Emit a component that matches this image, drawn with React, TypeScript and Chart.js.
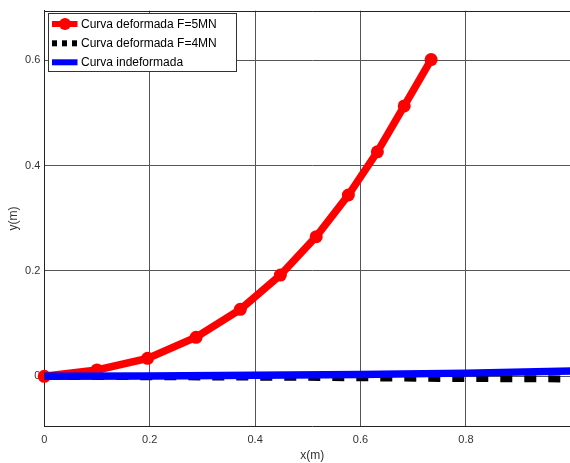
import React, { useEffect, useRef } from 'react';
import { Chart, registerables } from 'chart.js';

Chart.register(...registerables);

const seriesLabels = ['Curva deformada F=5MN', 'Curva deformada F=4MN', 'Curva indeformada'];

const xRed = [0, 0.1, 0.196, 0.288, 0.372, 0.448, 0.516, 0.577, 0.632, 0.683, 0.734];
const yRed = [0, 0.012, 0.034, 0.074, 0.127, 0.192, 0.265, 0.344, 0.426, 0.513, 0.601];

const xBlack = [0, 0.25, 0.5, 0.75, 1.0];
const yBlack = [0, -0.001, -0.002, -0.004, -0.005];

const xBlue = [0, 0.2, 0.4, 0.6, 0.8, 1.0];
const yBlue = [0, 0.0007, 0.002, 0.0035, 0.006, 0.01];

const xTicks = [0, 0.2, 0.4, 0.6, 0.8];
const yTicks = [0, 0.2, 0.4, 0.6];

const FONT = '"Liberation Sans", Arial, sans-serif';

const toPts = (xs: number[], ys: number[]) => xs.map((x, i) => ({ x, y: ys[i] }));

const framePlugin = {
  id: 'frameAndLegend',
  afterDraw(chart: any) {
    const { ctx, chartArea } = chart;
    ctx.save();
    ctx.strokeStyle = '#222';
    ctx.lineWidth = 1;
    ctx.beginPath();
    ctx.moveTo(chartArea.left, Math.round(chartArea.top) + 0.5);
    ctx.lineTo(chartArea.right, Math.round(chartArea.top) + 0.5);
    ctx.stroke();

    const bx = 48, by = 13, bw = 188, bh = 58;
    ctx.fillStyle = '#fff';
    ctx.fillRect(bx, by, bw, bh);
    ctx.strokeStyle = '#333';
    ctx.lineWidth = 1;
    ctx.strokeRect(bx + 0.5, by + 0.5, bw, bh);

    const rows = [24, 43.3, 62.3];
    const x0 = 52, x1 = 77.5;
    ctx.strokeStyle = '#ff0000';
    ctx.lineWidth = 6;
    ctx.beginPath();
    ctx.moveTo(x0, rows[0]);
    ctx.lineTo(x1, rows[0]);
    ctx.stroke();
    ctx.fillStyle = '#ff0000';
    ctx.beginPath();
    ctx.arc(65, rows[0], 6, 0, Math.PI * 2);
    ctx.fill();
    ctx.strokeStyle = '#000';
    ctx.setLineDash([5, 5]);
    ctx.lineCap = 'butt';
    ctx.beginPath();
    ctx.moveTo(x0, rows[1]);
    ctx.lineTo(x1, rows[1]);
    ctx.stroke();
    ctx.setLineDash([]);
    ctx.strokeStyle = '#0000ff';
    ctx.beginPath();
    ctx.moveTo(x0, rows[2]);
    ctx.lineTo(x1, rows[2]);
    ctx.stroke();

    ctx.fillStyle = '#000';
    ctx.font = `12px ${FONT}`;
    ctx.textBaseline = 'middle';
    ctx.textAlign = 'left';
    seriesLabels.forEach((t, i) => ctx.fillText(t, 81, rows[i] + 0.5));
    ctx.restore();
  },
};

export default function App() {
  const ref = useRef<HTMLCanvasElement | null>(null);
  useEffect(() => {
    if (!ref.current) return;
    const chart = new Chart(ref.current, {
      type: 'line',
      data: {
        datasets: [
          {
            label: seriesLabels[0],
            data: toPts(xRed, yRed),
            borderColor: '#ff0000',
            backgroundColor: '#ff0000',
            borderWidth: 7.5,
            pointRadius: 6.5,
            pointBorderWidth: 0,
            pointBackgroundColor: '#ff0000',
            fill: false,
            tension: 0,
            order: 3,
            clip: false,
          } as any,
          {
            label: seriesLabels[1],
            data: toPts(xBlack, yBlack),
            borderColor: '#000000',
            borderWidth: 7,
            borderDash: [12, 12],
            borderCapStyle: 'butt',
            pointRadius: 0,
            fill: false,
            tension: 0,
            order: 2,
          },
          {
            label: seriesLabels[2],
            data: toPts(xBlue, yBlue),
            borderColor: '#0000ff',
            borderWidth: 7.5,
            pointRadius: 0,
            fill: false,
            tension: 0,
            order: 1,
          },
        ],
      },
      options: {
        animation: false,
        responsive: false,
        maintainAspectRatio: false,
        layout: { autoPadding: false, padding: { top: 10.7, left: 0, right: 0, bottom: 0 } },
        plugins: { legend: { display: false }, tooltip: { enabled: false } },
        scales: {
          x: {
            type: 'linear',
            min: 0,
            max: 1.0165,
            afterBuildTicks: (axis: any) => {
              axis.ticks = xTicks.map((v) => ({ value: v }));
            },
            afterFit: (axis: any) => {
              axis.height = 36.7;
              axis.paddingLeft = 0;
              axis.paddingRight = 0;
            },
            ticks: {
              padding: 7,
              color: '#333',
              font: { family: FONT, size: 11 },
              callback: (v: any) => String(v),
              maxRotation: 0,
            },
            grid: { color: '#555', lineWidth: 1, drawTicks: false },
            border: { color: '#222', width: 1 },
            title: {
              display: true,
              text: 'x(m)',
              color: '#333',
              font: { family: FONT, size: 12 },
              padding: { top: 0, bottom: 0 },
            },
          },
          y: {
            type: 'linear',
            min: -0.0949,
            max: 0.6937,
            afterBuildTicks: (axis: any) => {
              axis.ticks = yTicks.map((v) => ({ value: v }));
            },
            afterFit: (axis: any) => {
              axis.width = 44.3;
              axis.paddingTop = 0;
              axis.paddingBottom = 0;
            },
            ticks: {
              padding: 4,
              color: '#333',
              font: { family: FONT, size: 11 },
              callback: (v: any) => String(v),
            },
            grid: { color: '#555', lineWidth: 1, drawTicks: false },
            border: { color: '#222', width: 1 },
            title: {
              display: true,
              text: 'y(m)',
              color: '#333',
              font: { family: FONT, size: 12 },
              padding: { top: 6, bottom: 0 },
            },
          },
        },
      } as any,
      plugins: [framePlugin],
    });
    return () => chart.destroy();
  }, []);
  return (
    <div style={{ position: 'absolute', left: 0, top: 0, width: 570, height: 463, overflow: 'hidden' }}>
      <canvas
        ref={ref}
        width={580}
        height={463}
        style={{ display: 'block', width: 580, height: 463 }}
      />
    </div>
  );
}
